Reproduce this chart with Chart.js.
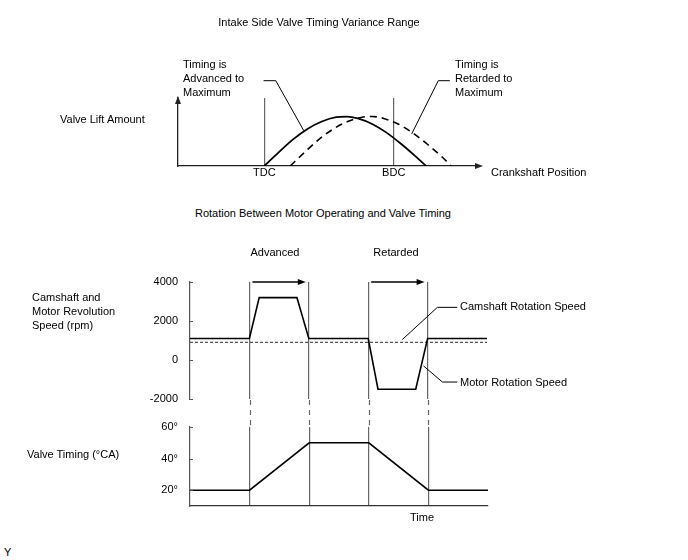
<!DOCTYPE html>
<html>
<head>
<meta charset="utf-8">
<script src="https://cdn.jsdelivr.net/npm/chart.js@4.4.0/dist/chart.umd.min.js"></script>
<style>
    body { margin: 0; background: #fff; }
    #page { position: relative; width: 688px; height: 560px; overflow: hidden;
            font-family: 'Liberation Sans', Arial, sans-serif; font-size: 11px; color: #000; }
    #page canvas { position: absolute; left: 0; }
    .lbl { position: absolute; line-height: 14px; white-space: nowrap; }
    .ctr { transform: translateX(-50%); }
</style>
</head>
<body>
<div id="page">
    <canvas id="liftChart" width="688" height="200" style="top:0"></canvas>
    <canvas id="speedChart" width="688" height="192" style="top:230px"></canvas>
    <canvas id="timingChart" width="688" height="130" style="top:400px"></canvas>

    <div class="lbl ctr" style="left:319px; top:15px">Intake Side Valve Timing Variance Range</div>
    <div class="lbl" style="left:183px; top:57px">Timing is<br>Advanced to<br>Maximum</div>
    <div class="lbl" style="left:455px; top:57px">Timing is<br>Retarded to<br>Maximum</div>
    <div class="lbl" style="left:60px; top:112px">Valve Lift Amount</div>
    <div class="lbl" style="left:491px; top:165px">Crankshaft Position</div>

    <div class="lbl ctr" style="left:323px; top:206px">Rotation Between Motor Operating and Valve Timing</div>
    <div class="lbl ctr" style="left:275px; top:245px">Advanced</div>
    <div class="lbl ctr" style="left:396px; top:245px">Retarded</div>
    <div class="lbl" style="left:32px; top:290px">Camshaft and<br>Motor Revolution<br>Speed (rpm)</div>
    <div class="lbl" style="left:460px; top:299px">Camshaft Rotation Speed</div>
    <div class="lbl" style="left:460px; top:375px">Motor Rotation Speed</div>

    <div class="lbl" style="left:27px; top:447px">Valve Timing (°CA)</div>
    <div class="lbl" style="left:410px; top:510px">Time</div>
    <div class="lbl" style="left:4px; top:545px">Y</div>
</div>

<script>
// valve lift vs crank angle (deg after TDC)
const crankTicks = [0, 180];
const crankTickLabels = ['TDC', 'BDC'];
const advancedAngle = [0, 20, 40, 60, 80, 100, 115, 130, 150, 170, 190, 210, 225];
const advancedLift = [0, 2.2, 4.3, 6.0, 7.2, 7.9, 8.0, 7.7, 6.8, 5.4, 3.6, 1.6, 0];
const retardedAngle = [36, 56, 76, 96, 116, 136, 150, 166, 186, 206, 226, 246, 260];
const retardedLift = [0, 2.2, 4.3, 6.0, 7.2, 7.9, 8.0, 7.7, 6.8, 5.4, 3.6, 1.6, 0];

// motor / camshaft speed vs time
const phaseTimes = [2, 4, 6, 8];
const speedTicks = [-2000, 0, 2000, 4000];
const motorTime = [0, 2, 2.33, 3.6, 4, 6, 6.33, 7.6, 8, 10];
const motorSpeed = [1100, 1100, 3200, 3200, 1100, 1100, -1500, -1500, 1100, 1100];
const camTime = [0, 10];
const camSpeed = [900, 900];

// valve timing vs time
const timingTicks = [20, 40, 60];
const timingTime = [0, 2, 4, 6, 8, 10];
const timingDeg = [20, 20, 50, 50, 20, 20];

const FONT = { family: "'Liberation Sans', Arial, sans-serif", size: 11 };
const GRID = '#666';

function points(xs, ys) {
    return xs.map((x, i) => ({ x: x, y: ys[i] }));
}

function setTicks(list) {
    return (axis) => { axis.ticks = list.map(v => ({ value: v })); };
}

function arrowHead(ctx, x, y, dir) {
    // dir: 'up' | 'right'
    ctx.beginPath();
    if (dir === 'up') {
        ctx.moveTo(x, y); ctx.lineTo(x - 3, y + 8); ctx.lineTo(x + 3, y + 8);
    } else {
        ctx.moveTo(x, y); ctx.lineTo(x - 8, y - 3); ctx.lineTo(x - 8, y + 3);
    }
    ctx.closePath();
    ctx.fill();
}

// draw a leader line through points given in data units
function leader(chart, pts) {
    const { ctx, scales } = chart;
    ctx.save();
    ctx.strokeStyle = '#000';
    ctx.lineWidth = 1;
    ctx.beginPath();
    pts.forEach((p, i) => {
        const px = scales.x.getPixelForValue(p[0]);
        const py = scales.y.getPixelForValue(p[1]);
        if (i === 0) ctx.moveTo(px, py); else ctx.lineTo(px, py);
    });
    ctx.stroke();
    ctx.restore();
}

// small tick marks pointing into the plot, like the original drawing
const innerTicks = {
    id: 'innerTicks',
    afterDraw(chart) {
        const { ctx, scales, chartArea } = chart;
        ctx.save();
        ctx.strokeStyle = '#555';
        ctx.lineWidth = 1;
        scales.y.ticks.forEach(t => {
            const y = Math.round(scales.y.getPixelForValue(t.value)) + 0.5;
            ctx.beginPath();
            ctx.moveTo(chartArea.left, y);
            ctx.lineTo(chartArea.left + 3, y);
            ctx.stroke();
        });
        ctx.restore();
    }
};

const liftDecor = {
    id: 'liftDecor',
    afterDraw(chart) {
        const { ctx, chartArea } = chart;
        ctx.save();
        ctx.fillStyle = '#222';
        arrowHead(ctx, chartArea.left, chartArea.top - 2, 'up');
        arrowHead(ctx, chartArea.right + 3, chartArea.bottom, 'right');
        ctx.restore();
        leader(chart, [[-1, 13.8], [16, 13.8], [55, 5.7]]);
        leader(chart, [[258, 13.8], [242, 13.8], [205, 5.2]]);
    }
};

const speedDecor = {
    id: 'speedDecor',
    afterDraw(chart) {
        const { ctx, scales } = chart;
        const y = scales.y.getPixelForValue(4000);
        ctx.save();
        ctx.strokeStyle = '#000';
        ctx.fillStyle = '#000';
        ctx.lineWidth = 1.5;
        [[2, 4], [6, 8]].forEach(([a, b]) => {
            const x1 = scales.x.getPixelForValue(a) + 3;
            const x2 = scales.x.getPixelForValue(b) - 3;
            ctx.beginPath();
            ctx.moveTo(x1, y);
            ctx.lineTo(x2 - 6, y);
            ctx.stroke();
            arrowHead(ctx, x2, y, 'right');
        });
        ctx.restore();
        leader(chart, [[7.15, 1050], [8.33, 2700], [9.0, 2700]]);
        leader(chart, [[7.86, -300], [8.5, -1130], [9.0, -1130]]);
    }
};

const timingDecor = {
    id: 'timingDecor',
    beforeDatasetsDraw(chart) {
        // dashed continuation of the phase lines from the speed chart
        const { ctx, scales, chartArea } = chart;
        ctx.save();
        ctx.strokeStyle = GRID;
        ctx.lineWidth = 1.2;
        ctx.setLineDash([5, 5]);
        phaseTimes.forEach(t => {
            const x = Math.round(scales.x.getPixelForValue(t)) + 0.5;
            ctx.beginPath();
            ctx.moveTo(x, 0);
            ctx.lineTo(x, chartArea.top);
            ctx.stroke();
        });
        ctx.restore();
    }
};

const baseOptions = {
    responsive: false,
    animation: false,
    events: [],
    plugins: { legend: { display: false }, tooltip: { enabled: false } }
};

function phaseAxis(height, showBorder) {
    return {
        type: 'linear', min: 0, max: 10,
        afterBuildTicks: setTicks(phaseTimes),
        afterFit: (s) => { s.height = height; },
        ticks: { display: false },
        grid: { color: GRID, lineWidth: 1.2, drawTicks: false },
        border: { display: showBorder, color: '#333', width: 1.2 }
    };
}

function valueAxis(min, max, ticks, fmt) {
    return {
        min: min, max: max,
        afterBuildTicks: setTicks(ticks),
        afterFit: (s) => { s.width = 60; },
        ticks: { color: '#000', font: FONT, padding: 12, callback: fmt },
        grid: { drawOnChartArea: false, drawTicks: false },
        border: { color: '#555', width: 1.2 }
    };
}

document.addEventListener('DOMContentLoaded', () => {
    new Chart(document.getElementById('liftChart'), {
        type: 'line',
        data: {
            datasets: [{
                data: points(advancedAngle, advancedLift),
                borderColor: '#000', borderWidth: 1.8, pointRadius: 0,
                cubicInterpolationMode: 'monotone'
            }, {
                data: points(retardedAngle, retardedLift),
                borderColor: '#000', borderWidth: 1.6, borderDash: [7, 5], pointRadius: 0,
                cubicInterpolationMode: 'monotone'
            }]
        },
        options: {
            ...baseOptions,
            layout: { padding: { left: 178, right: 208, top: 98, bottom: 0 } },
            scales: {
                x: {
                    type: 'linear', min: -120, max: 300,
                    afterBuildTicks: setTicks(crankTicks),
                    afterFit: (s) => { s.height = 34; },
                    ticks: {
                        callback: (v) => crankTickLabels[crankTicks.indexOf(v)],
                        color: '#000', font: FONT, padding: 0, maxRotation: 0, autoSkip: false
                    },
                    grid: { color: GRID, lineWidth: 1.2, drawTicks: false },
                    border: { color: '#222', width: 1.3 }
                },
                y: {
                    min: 0, max: 11,
                    afterFit: (s) => { s.width = 0; },
                    ticks: { display: false },
                    grid: { display: false },
                    border: { color: '#222', width: 1.3 }
                }
            }
        },
        plugins: [liftDecor]
    });

    new Chart(document.getElementById('speedChart'), {
        type: 'line',
        data: {
            datasets: [{
                label: 'Motor Rotation Speed',
                data: points(motorTime, motorSpeed),
                borderColor: '#000', borderWidth: 1.6, pointRadius: 0, tension: 0
            }, {
                label: 'Camshaft Rotation Speed',
                data: points(camTime, camSpeed),
                borderColor: '#555', borderWidth: 1.2, borderDash: [3, 2], pointRadius: 0
            }]
        },
        options: {
            ...baseOptions,
            layout: { padding: { left: 130, right: 201, top: 52, bottom: 0 } },
            scales: {
                x: phaseAxis(23, false),
                y: valueAxis(-2000, 4000, speedTicks, (v) => String(v))
            }
        },
        plugins: [speedDecor, innerTicks]
    });

    new Chart(document.getElementById('timingChart'), {
        type: 'line',
        data: {
            datasets: [{
                label: 'Valve Timing',
                data: points(timingTime, timingDeg),
                borderColor: '#000', borderWidth: 1.6, pointRadius: 0, tension: 0
            }]
        },
        options: {
            ...baseOptions,
            layout: { padding: { left: 130, right: 200, top: 27, bottom: 0 } },
            scales: {
                x: phaseAxis(24, true),
                y: valueAxis(10, 60, timingTicks, (v) => v + '°')
            }
        },
        plugins: [timingDecor, innerTicks]
    });
});
</script>
</body>
</html>
